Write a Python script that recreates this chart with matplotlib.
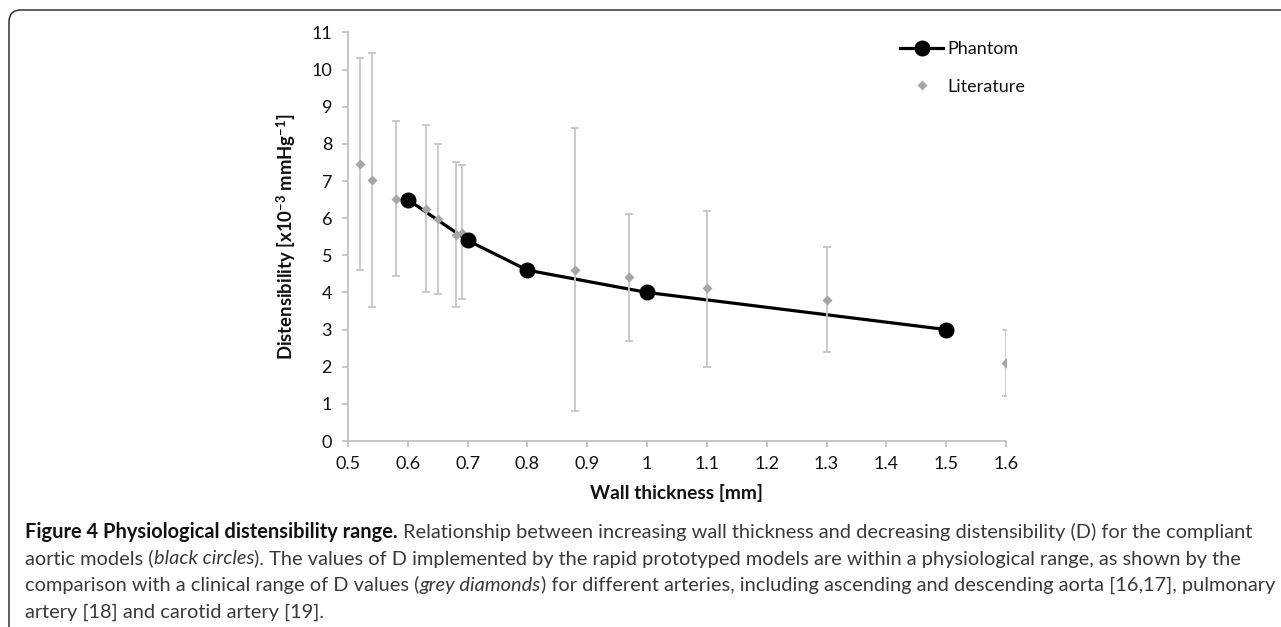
import matplotlib
matplotlib.use('Agg')
import matplotlib.pyplot as plt
from matplotlib.patches import FancyBboxPatch
from matplotlib.lines import Line2D
from matplotlib.transforms import IdentityTransform

# ---------------- data ----------------
phantom_x = [0.6, 0.7, 0.8, 1.0, 1.5]
phantom_y = [6.5, 5.4, 4.6, 4.0, 3.0]

lit_x = [0.52, 0.54, 0.58, 0.63, 0.65, 0.68, 0.69, 0.88, 0.97, 1.1, 1.3, 1.6]
lit_y = [7.45, 7.02, 6.52, 6.26, 5.98, 5.55, 5.6, 4.61, 4.42, 4.12, 3.81, 2.1]
lit_low = [4.61, 3.62, 4.43, 4.01, 3.96, 3.62, 3.83, 0.8, 2.7, 2.0, 2.41, 1.2]
lit_high = [10.3, 10.45, 8.62, 8.5, 8.0, 7.52, 7.42, 8.42, 6.12, 6.2, 5.22, 3.0]

x_ticks = [0.5, 0.6, 0.7, 0.8, 0.9, 1.0, 1.1, 1.2, 1.3, 1.4, 1.5, 1.6]
x_tick_labels = ['0.5', '0.6', '0.7', '0.8', '0.9', '1', '1.1', '1.2', '1.3', '1.4', '1.5', '1.6']
y_ticks = list(range(0, 12))

series_names = ['Phantom', 'Literature']
x_label = 'Wall thickness [mm]'
y_label = r'Distensibility [x10$^{\mathbf{-3}}$ mmHg$^{\mathbf{-1}}$]'

caption_lines = [
    [('Figure 4 Physiological distensibility range.', 'bold'), (' ', 'sp'),
     ('Relationship between increasing wall thickness and decreasing distensibility (D) for the compliant', 'normal')],
    [('aortic models (', 'normal'), ('black circles', 'italic'),
     ('). The values of D implemented by the rapid prototyped models are within a physiological range, as shown by the', 'normal')],
    [('comparison with a clinical range of D values (', 'normal'), ('grey diamonds', 'italic'),
     (') for different arteries, including ascending and descending aorta [16,17], pulmonary', 'normal')],
    [('artery [18] and carotid artery [19].', 'normal')],
]

# ---------------- style ----------------
W, H, DPI = 1281, 627, 100
FONT = ['Lato', 'DejaVu Sans']
plt.rcParams['font.family'] = FONT
plt.rcParams['mathtext.fontset'] = 'custom'
plt.rcParams['mathtext.rm'] = 'Lato'
plt.rcParams['mathtext.bf'] = 'Lato:bold'
plt.rcParams['mathtext.it'] = 'Lato:italic'

fig = plt.figure(figsize=(W / DPI, H / DPI), dpi=DPI)
renderer = fig.canvas.get_renderer()


def fx(px):
    return px / W


def fy(py):
    return 1 - py / H


def measure(s, **kw):
    t = fig.text(0, 0, s, **kw)
    w = t.get_window_extent(renderer).width
    t.remove()
    return w


# outer rounded frame (continues past right and bottom edges)
frame = FancyBboxPatch((9, -60), 1400, (H - 10) + 60,
                       boxstyle='round,pad=0,rounding_size=12',
                       transform=IdentityTransform(), fill=False,
                       edgecolor='#333333', linewidth=1.1)
fig.patches.append(frame)

# ---------------- axes ----------------
ax_l, ax_r, ax_t, ax_b = 348, 1006, 32.5, 441
ax = fig.add_axes([fx(ax_l), fy(ax_b), (ax_r - ax_l) / W, (ax_b - ax_t) / H])
ax.set_xlim(0.5, 1.6)
ax.set_ylim(0, 11)
ax.patch.set_visible(False)

grey_axis = '#c3c3c3'
for s in ['top', 'right']:
    ax.spines[s].set_visible(False)
for s in ['left', 'bottom']:
    ax.spines[s].set_color(grey_axis)
    ax.spines[s].set_linewidth(1.3)

ax.set_xticks(x_ticks)
ax.set_xticklabels(x_tick_labels)
ax.set_yticks(y_ticks)
ax.tick_params(direction='out', length=4.5, width=1.3, color=grey_axis,
               labelsize=13, labelcolor='#111111')
ax.tick_params(axis='x', pad=6)
ax.tick_params(axis='y', pad=7)

# phantom line
ax.plot(phantom_x, phantom_y, color='black', lw=2.3, zorder=2,
        solid_joinstyle='round')
# literature error bars and diamonds
yerr = [[y - lo for y, lo in zip(lit_y, lit_low)],
        [hi - y for y, hi in zip(lit_y, lit_high)]]
ax.errorbar(lit_x, lit_y, yerr=yerr, fmt='none', ecolor='#c6c6c6',
            elinewidth=1.3, capsize=3.0, capthick=1.3, zorder=3)
ax.plot(lit_x, lit_y, ls='none', marker='D', color='#a6a6a6', ms=4.8,
        mec='none', zorder=4)
# phantom markers
ax.plot(phantom_x, phantom_y, ls='none', marker='o', color='black', ms=10.5,
        zorder=5)

# legend
h1 = Line2D([], [], color='black', lw=2.3, marker='o', ms=10.5)
h2 = Line2D([], [], ls='none', marker='D', color='#a6a6a6', ms=4.8, mec='none')
fs_leg = 13
fs_px = fs_leg * DPI / 72
leg = ax.legend([h1, h2], series_names, loc='upper left',
                bbox_to_anchor=(fx(900), fy(41)), bbox_transform=fig.transFigure,
                frameon=False, fontsize=fs_leg, handlelength=43 / fs_px,
                handletextpad=4 / fs_px, labelspacing=1.2, borderpad=0,
                borderaxespad=0, numpoints=1)
for t in leg.get_texts():
    t.set_color('#111111')

# axis labels (fit to measured widths)
xl_size = 10 * 173 / measure(x_label, fontsize=10, fontweight='bold')
fig.text(fx(677), fy(493), x_label, fontsize=xl_size, fontweight='bold',
         ha='center', va='center', color='#111111')
yl_size = 10 * 247 / measure(y_label, fontsize=10, fontweight='bold')
fig.text(fx(286), fy(236.5), y_label, fontsize=yl_size, fontweight='bold',
         rotation=90, ha='center', va='center', color='#111111')

# ---------------- caption ----------------
STYLE = {'bold': dict(fontweight='bold', color='#111111'),
         'normal': dict(color='#3a3a3a'),
         'italic': dict(style='italic', color='#3a3a3a')}
base = 10
space_w = measure('n n', fontsize=base) - measure('nn', fontsize=base)


def run_width(runs, size):
    tot = 0
    for s, st in runs:
        if st == 'sp':
            tot += space_w * size / base
        else:
            tot += measure(s, fontsize=size, **STYLE[st])
    return tot


cap_size = base * 1225 / run_width(caption_lines[0], base)
baselines = [538, 564.5, 591, 617.5]
for runs, yb in zip(caption_lines, baselines):
    x = 25.0
    for s, st in runs:
        if st == 'sp':
            x += space_w * cap_size / base
            continue
        t = fig.text(fx(x), fy(yb), s, fontsize=cap_size, va='baseline',
                     ha='left', **STYLE[st])
        x += t.get_window_extent(renderer).width

fig.savefig('out.png', dpi=DPI)
